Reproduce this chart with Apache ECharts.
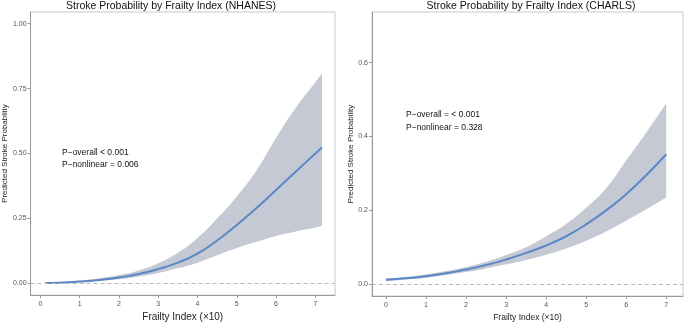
<!DOCTYPE html>
<html><head><meta charset="utf-8">
<script src="https://cdn.jsdelivr.net/npm/echarts@6/dist/echarts.min.js"></script>
<style>html,body{margin:0;padding:0;background:#fff}#c{width:685px;height:327px}</style>
</head><body><div id="c"></div>
<script>
// NHANES panel
const nhX     = [0.13, 0.5, 1, 1.5, 2, 2.5, 3, 3.5, 4, 4.5, 5, 5.5, 6, 6.5, 7, 7.17];
const nhFit   = [0.002, 0.003, 0.007, 0.013, 0.023, 0.036, 0.055, 0.08, 0.115, 0.165, 0.225, 0.29, 0.36, 0.43, 0.5, 0.523];
const nhUpper = [0.004, 0.006, 0.011, 0.02, 0.032, 0.05, 0.078, 0.118, 0.175, 0.25, 0.335, 0.435, 0.56, 0.675, 0.775, 0.807];
const nhLower = [0.0, 0.001, 0.004, 0.009, 0.016, 0.026, 0.04, 0.058, 0.08, 0.108, 0.136, 0.16, 0.183, 0.2, 0.215, 0.222];
// CHARLS panel
const chX     = [0, 0.5, 1, 1.5, 2, 2.5, 3, 3.5, 4, 4.5, 5, 5.5, 6, 6.5, 7];
const chFit   = [0.012, 0.016, 0.022, 0.03, 0.04, 0.052, 0.067, 0.085, 0.105, 0.13, 0.162, 0.2, 0.244, 0.295, 0.352];
const chUpper = [0.016, 0.02, 0.027, 0.036, 0.047, 0.061, 0.079, 0.1, 0.13, 0.163, 0.207, 0.26, 0.335, 0.41, 0.49];
const chLower = [0.008, 0.013, 0.018, 0.025, 0.033, 0.043, 0.054, 0.066, 0.08, 0.097, 0.118, 0.143, 0.172, 0.203, 0.235];
// ticks
const xTicks  = [0, 1, 2, 3, 4, 5, 6, 7];
const nhYTicks = [0, 0.25, 0.5, 0.75, 1.0];
const chYTicks = [0, 0.2, 0.4, 0.6];
const titles = ['Stroke Probability by Frailty Index (NHANES)', 'Stroke Probability by Frailty Index (CHARLS)'];
const notes = [['P\u2212overall < 0.001', 'P\u2212nonlinear = 0.006'], ['P\u2212overall = < 0.001', 'P\u2212nonlinear = 0.328']];

const FONT = 'Liberation Sans, Arial, Helvetica, sans-serif';
const BAND = '#c5c9d4', LINE = '#5b87c6';

function pairs(xs, ys) { return xs.map((x, i) => [x, ys[i]]); }
// value-first rows so that the stack is applied to the y value
function vrows(xs, ys) { return xs.map((x, i) => [ys[i], x]); }
function diff(a, b) { return a.map((v, i) => +(v - b[i]).toFixed(4)); }

function xAxis(idx, min, max, nameSize) {
  return {
    type: 'value', gridIndex: idx, min: min, max: max,
    name: 'Frailty Index (\u00d710)', nameLocation: 'middle', nameGap: 13,
    nameTextStyle: {fontFamily: FONT, fontSize: nameSize, color: '#222'},
    axisLine: {show: true, onZero: false, lineStyle: {color: '#9a9a9a'}},
    axisTick: {show: true, length: 3, customValues: xTicks, lineStyle: {color: '#9a9a9a'}},
    axisLabel: {customValues: xTicks, fontFamily: FONT, fontSize: 7, color: '#555', margin: 5},
    splitLine: {show: false}
  };
}
function yAxis(idx, min, max, ticks, dec, gap) {
  return {
    type: 'value', gridIndex: idx, min: min, max: max,
    name: 'Predicted Stroke Probability', nameLocation: 'middle', nameGap: gap,
    nameTextStyle: {fontFamily: FONT, fontSize: 8, color: '#222'},
    axisLine: {show: true, onZero: false, lineStyle: {color: '#9a9a9a'}},
    axisTick: {show: true, length: 3, customValues: ticks, lineStyle: {color: '#9a9a9a'}},
    axisLabel: {customValues: ticks, fontFamily: FONT, fontSize: 7, color: '#555', margin: 4,
      formatter: v => v.toFixed(dec)},
    splitLine: {show: false}
  };
}
function bandSeries(idx, xs, lo, up, fit) {
  const st = 'ci' + idx;
  return [
    {type: 'line', xAxisIndex: idx, yAxisIndex: idx, stack: st, encode: {x: 1, y: 0}, symbol: 'none', smooth: true,
      lineStyle: {opacity: 0}, data: vrows(xs, lo), silent: true, z: 1},
    {type: 'line', xAxisIndex: idx, yAxisIndex: idx, stack: st, encode: {x: 1, y: 0}, symbol: 'none', smooth: true,
      lineStyle: {opacity: 0}, areaStyle: {color: BAND, opacity: 1}, data: vrows(xs, diff(up, lo)), silent: true, z: 1},
    {type: 'line', xAxisIndex: idx, yAxisIndex: idx, symbol: 'none', smooth: true,
      lineStyle: {color: LINE, width: 2}, data: pairs(xs, fit), z: 4,
      markLine: {silent: true, symbol: 'none', label: {show: false},
        lineStyle: {color: '#b8b8b8', type: [4, 3], width: 1}, data: [{yAxis: 0}]}}
  ];
}

const chart = echarts.init(document.getElementById('c'), null, {renderer: 'canvas'});
chart.setOption({
  animation: false,
  backgroundColor: '#fff',
  textStyle: {fontFamily: FONT},
  grid: [
    {left: 29, top: 12, width: 306, height: 288, show: true, borderColor: '#c8c8c8', borderWidth: 1, backgroundColor: 'transparent'},
    {left: 372, top: 12, width: 311, height: 288, show: true, borderColor: '#c8c8c8', borderWidth: 1, backgroundColor: 'transparent'}
  ],
  xAxis: [xAxis(0, -0.25, 7.5, 10), xAxis(1, -0.35, 7.42, 8.5)],
  yAxis: [yAxis(0, -0.045, 1.045, nhYTicks, 2, 18), yAxis(1, -0.032, 0.737, chYTicks, 1, 16)],
  series: [].concat(bandSeries(0, nhX, nhLower, nhUpper, nhFit), bandSeries(1, chX, chLower, chUpper, chFit)),
  graphic: [
    {type: 'text', x: 171, y: 1, style: {text: titles[0], font: '10.5px ' + FONT, fill: '#111', align: 'center', verticalAlign: 'top'}},
    {type: 'text', x: 531, y: 1, style: {text: titles[1], font: '10.5px ' + FONT, fill: '#111', align: 'center', verticalAlign: 'top'}},
    {type: 'text', x: 62, y: 148, style: {text: notes[0][0], font: '8.5px ' + FONT, fill: '#111'}},
    {type: 'text', x: 62, y: 160, style: {text: notes[0][1], font: '8.5px ' + FONT, fill: '#111'}},
    {type: 'text', x: 406, y: 110, style: {text: notes[1][0], font: '8.5px ' + FONT, fill: '#111'}},
    {type: 'text', x: 406, y: 123, style: {text: notes[1][1], font: '8.5px ' + FONT, fill: '#111'}}
  ]
});
</script></body></html>
